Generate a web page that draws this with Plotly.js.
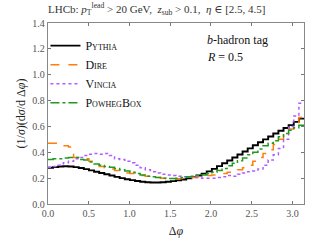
<!DOCTYPE html>
<html><head><meta charset="utf-8">
<script src="https://cdn.plot.ly/plotly-3.0.1.min.js"></script>
<style>body{margin:0;padding:0;background:#fff}#c{width:320px;height:240px}</style>
</head><body><div id="c"></div>
<script>
const nBins = 50;
const xMax = Math.PI;
const seriesNames = ["Pythia", "Dire", "Vincia", "PowhegBox"];
const pythia = [0.28,0.285,0.29,0.292,0.29,0.285,0.278,0.27,0.26,0.25,0.24,0.23,0.22,0.21,0.20,0.192,0.185,0.178,0.172,0.168,0.166,0.166,0.168,0.172,0.177,0.183,0.19,0.198,0.208,0.22,0.235,0.252,0.272,0.293,0.315,0.337,0.36,0.383,0.406,0.43,0.455,0.478,0.50,0.522,0.545,0.567,0.588,0.61,0.635,0.66];
const dire = [0.47,0.47,0.46,0.45,0.44,0.36,0.36,0.35,0.33,0.31,0.29,0.28,0.27,0.26,0.25,0.24,0.235,0.225,0.22,0.215,0.21,0.205,0.20,0.198,0.195,0.195,0.197,0.20,0.205,0.21,0.215,0.22,0.225,0.23,0.235,0.245,0.255,0.265,0.28,0.30,0.33,0.36,0.39,0.42,0.46,0.50,0.54,0.58,0.62,0.67];
const vincia = [0.285,0.29,0.30,0.32,0.33,0.35,0.36,0.375,0.385,0.39,0.385,0.39,0.375,0.35,0.345,0.33,0.32,0.30,0.28,0.265,0.25,0.24,0.23,0.225,0.22,0.215,0.21,0.21,0.205,0.205,0.20,0.20,0.20,0.205,0.21,0.22,0.215,0.23,0.24,0.25,0.255,0.27,0.30,0.34,0.38,0.43,0.50,0.60,0.68,0.78];
const powheg = [0.345,0.35,0.35,0.355,0.36,0.36,0.345,0.34,0.325,0.31,0.30,0.29,0.285,0.275,0.265,0.255,0.245,0.235,0.225,0.215,0.21,0.205,0.20,0.198,0.197,0.20,0.205,0.21,0.215,0.22,0.225,0.235,0.245,0.26,0.275,0.295,0.315,0.335,0.355,0.38,0.40,0.425,0.45,0.47,0.49,0.52,0.545,0.57,0.59,0.61];
const xTicks = [0, 0.5, 1.0, 1.5, 2.0, 2.5, 3.0];
const yTicks = [0, 0.2, 0.4, 0.6, 0.8, 1.0, 1.2, 1.4];

const edges = [];
for (let i = 0; i <= nBins; i++) edges.push(i * xMax / nBins);
function stepY(v){ return v.concat([v[v.length-1]]); }

const styles = [
  {color:"#000000", width:1.9, dash:"solid"},
  {color:"#ff7f0e", width:1.5, dash:"dash"},
  {color:"#b25cff", width:1.5, dash:"dot"},
  {color:"#1f9a1f", width:1.5, dash:"dashdot"}
];
const data = [pythia, dire, vincia, powheg].map((v,k)=>({
  x: edges, y: stepY(v), type:"scatter", mode:"lines", name: seriesNames[k],
  line: {shape:"hv", color: styles[k].color, width: styles[k].width, dash: styles[k].dash}
}));

const serif = "Liberation Serif, DejaVu Serif, serif";
const axisCommon = {
  showline:true, linecolor:"#888", linewidth:1.3, mirror:"ticks",
  ticks:"inside", ticklen:3, tickcolor:"#777", showgrid:false, zeroline:false,
  tickfont:{family:serif, size:10, color:"#555"}
};
const layout = {
  width:320, height:240,
  margin:{l:48, r:16, t:23, b:36},
  paper_bgcolor:"#fff", plot_bgcolor:"#fff",
  showlegend:true,
  legend:{x:-0.01, y:0.955, xanchor:"left", yanchor:"top", bgcolor:"rgba(0,0,0,0)",
    font:{family:serif, size:12, color:"#111", variant:"small-caps"}, tracegroupgap:0, itemwidth:30},
  title:{text:"LHCb: <i>p</i><sub>T</sub><sup>lead</sup> > 20 GeV,  <i>z</i><sub>sub</sub> > 0.1,  <i>η</i> ∈ [2.5, 4.5]",
    font:{family:serif, size:11, color:"#333"}, xref:"paper", x:0.0, xanchor:"left", y:0.98, yanchor:"top"},
  xaxis:Object.assign({}, axisCommon, {range:[0, xMax], tickvals:xTicks, ticktext:xTicks.map(v=>v.toFixed(1)),
    title:{text:"Δ<i>φ</i>", font:{family:serif, size:12, color:"#222"}, standoff:8}}),
  yaxis:Object.assign({}, axisCommon, {range:[0, 1.4], tickvals:yTicks, ticktext:yTicks.map(v=>v.toFixed(1)),
    title:{text:"(1/<i>σ</i>)(d<i>σ</i>/d Δ<i>φ</i>)", font:{family:serif, size:12, color:"#222"}, standoff:4}}),
  annotations:[
    {xref:"paper", yref:"paper", x:0.615, y:0.905, xanchor:"left", yanchor:"middle", showarrow:false,
     text:"<i>b</i>-hadron tag", font:{family:serif, size:12, color:"#111"}},
    {xref:"paper", yref:"paper", x:0.615, y:0.81, xanchor:"left", yanchor:"middle", showarrow:false,
     text:"<i>R</i> = 0.5", font:{family:serif, size:12, color:"#111"}}
  ]
};
Plotly.newPlot("c", data, layout, {staticPlot:true, displayModeBar:false});
</script></body></html>
